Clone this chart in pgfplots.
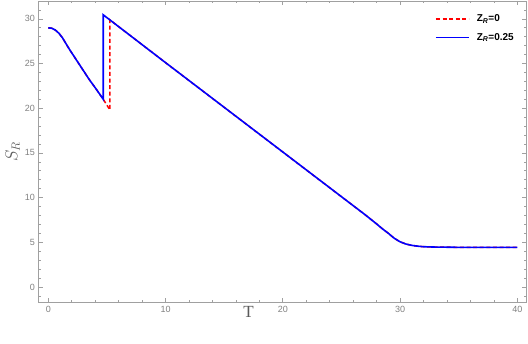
\documentclass[border=0pt]{standalone}
\usepackage{fontspec}
\setmainfont{Liberation Serif}
\setsansfont{Liberation Sans}
\usepackage{pgfplots}
\pgfplotsset{compat=1.18}
\definecolor{framegray}{RGB}{160,160,160}
\definecolor{ticktext}{RGB}{128,128,128}
\definecolor{labeltext}{RGB}{90,90,90}

\begin{document}
\begin{tikzpicture}[x=1pt,y=1pt]
\begin{axis}[
  at={(38.3pt,41.7pt)}, anchor=south west,
  scale only axis, width=488.4pt, height=301.3pt,
  xmin=-0.85, xmax=40.8, ymin=-1.72, ymax=32.0,
  xtick={0,10,...,40}, minor xtick={2,4,...,38},
  ytick={0,5,...,30}, minor ytick={-1,0,...,31},
  tick align=inside,
  major tick length=4.5pt, minor tick length=2.5pt,
  axis line style={framegray,line width=0.8pt},
  every tick/.style={framegray,line width=0.6pt},
  ticklabel style={font=\sffamily\fontsize{9}{10}\selectfont,text=ticktext},
  /pgf/number format/assume math mode=true,
  xlabel={T}, ylabel={$S_R$},
  label style={font=\fontsize{17}{19}\selectfont,text=labeltext},
  xlabel style={at={(0.4306,0)},yshift=-1pt},
  ylabel style={yshift=-2pt},
  legend style={draw=none,fill=none,at={(0.806,0.968)},anchor=north west,
    font=\sffamily\bfseries\fontsize{10}{12}\selectfont,row sep=6pt},
  legend cell align=left,
  legend image code/.code={\draw[#1] (0pt,0pt) -- (33pt,0pt);\path (38pt,0pt);},
]
\addlegendimage{red,dash pattern=on 4pt off 2.6pt,line width=1.6pt}
\addlegendentry{Z\textsubscript{\textit{R}}=0}
\addlegendimage{blue,line width=1.6pt}
\addlegendentry{Z\textsubscript{\textit{R}}=0.25}
\addplot[red,dash pattern=on 4pt off 2.6pt,line width=1.5pt,forget plot] coordinates {
 (0,29.0)(0.3,28.95)(0.6,28.75)(0.9,28.4)(1.2,27.9)(1.5,27.25)(1.8,26.6)
 (2.2,25.8)(2.6,25.0)(3.0,24.2)(3.5,23.2)(4.0,22.3)(4.69,21.0)(5.26,19.8)
 (5.26,29.88)(10,25.1)(15,20.1)(20,15.1)(25,10.1)(27,8.1)(28,7.05)(28.5,6.5)
 (29,6.0)(29.5,5.45)(30,5.05)(30.5,4.8)(31,4.65)(31.5,4.56)(32,4.5)(33,4.46)
 (35,4.43)(40,4.43)};
\addplot[blue,line width=1.6pt,forget plot] coordinates {
 (0,29.0)(0.3,28.95)(0.6,28.75)(0.9,28.4)(1.2,27.9)(1.5,27.25)(1.8,26.6)
 (2.2,25.8)(2.6,25.0)(3.0,24.2)(3.5,23.2)(4.0,22.3)(4.69,21.0)
 (4.69,30.45)(10,25.1)(15,20.1)(20,15.1)(25,10.1)(27,8.1)(28,7.05)(28.5,6.5)
 (29,6.0)(29.5,5.45)(30,5.05)(30.5,4.8)(31,4.65)(31.5,4.56)(32,4.5)(33,4.46)
 (35,4.43)(40,4.43)};
\end{axis}
\pgfresetboundingbox
\path[use as bounding box] (0,0) rectangle (528,344);
\end{tikzpicture}
\end{document}
